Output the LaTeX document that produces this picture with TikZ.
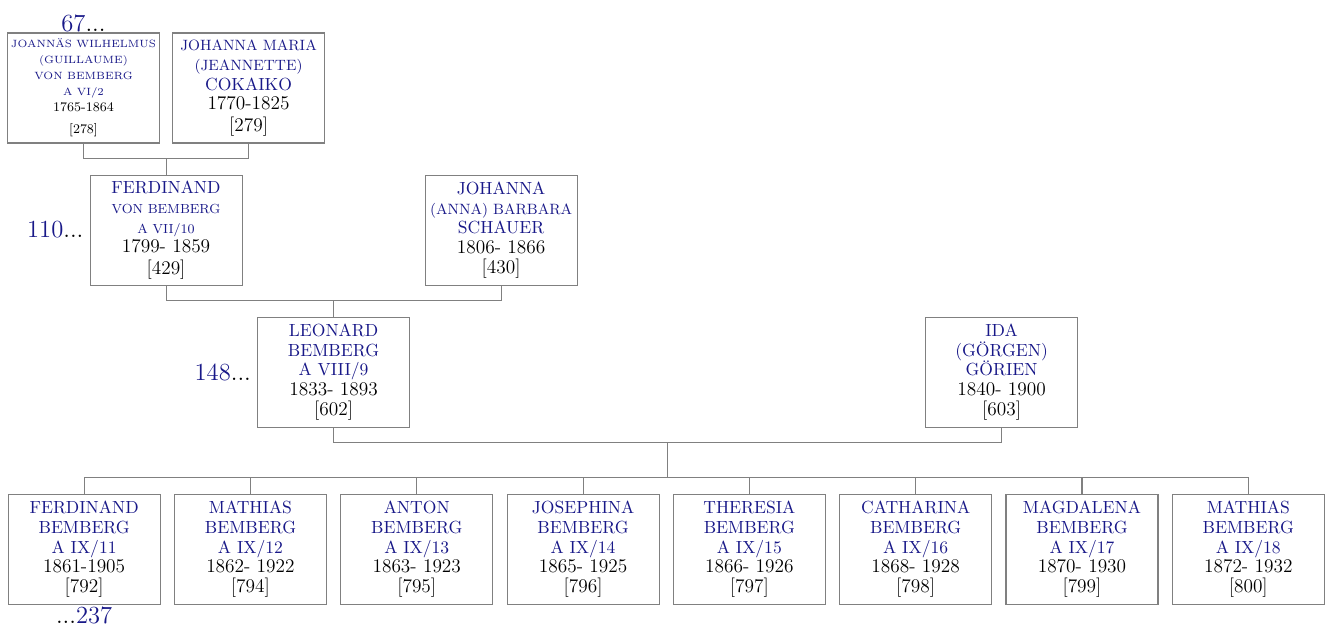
\documentclass[tikz,border=0pt]{standalone}
\usepackage{xcolor}
\usepackage{tikz}
\usetikzlibrary{positioning,calc}

\definecolor{namecol}{RGB}{24,24,136}
\definecolor{linecol}{RGB}{128,128,128}
\newcommand{\nm}[1]{\textcolor{namecol}{#1}}
\newcommand{\bigname}{\fontsize{10}{11.3}\selectfont}
\newcommand{\midname}{\fontsize{8.5}{11.3}\selectfont}
\newcommand{\smallname}{\fontsize{7.5}{9}\selectfont}
\newcommand{\tinyname}{\fontsize{6}{9}\selectfont}

\begin{document}
\begin{tikzpicture}[
    node distance=0.62cm and 0.265cm,
    person/.style={draw=linecol, line width=0.6pt, minimum width=3.04cm, minimum height=2.2cm, inner sep=1pt, align=center, font=\fontsize{11}{11.3}\selectfont},
    gen/.style={font=\fontsize{14}{14}\selectfont, inner sep=1pt},
    link/.style={draw=linecol, line width=0.6pt}
]
    \useasboundingbox (0,0) rectangle (26.58,-12.56);

    % generation VI
    \node[person, font=\tinyname] (joannes) at (1.67,-1.76) {\nm{JOANNÄS WILHELMUS}\\\nm{(GUILLAUME)}\\\nm{VON BEMBERG}\\\nm{A VI/2}\\{\smallname 1765-1864}\\[4pt]{\smallname [278]}};
    \node[person, right=0.24cm of joannes] (jeannette) {\nm{\midname JOHANNA MARIA}\\\nm{\midname (JEANNETTE)}\\\nm{\bigname COKAIKO}\\1770-1825\\[1pt]{[279]}};

    % generation VII
    \node[person, below=of $(joannes.south)!0.5!(jeannette.south)$] (ferdinand) {\nm{\bigname FERDINAND}\\\nm{\smallname VON BEMBERG}\\\nm{\smallname A VII/10}\\1799-~1859\\[1pt]{[429]}};
    \node[person, right=3.64cm of ferdinand] (johanna) {\nm{\bigname JOHANNA}\\\nm{\midname (ANNA) BARBARA}\\\nm{\bigname SCHAUER}\\1806-~1866\\{[430]}};

    % generation VIII
    \node[person, below=of $(ferdinand.south)!0.5!(johanna.south)$] (leonard) {\nm{\bigname LEONARD}\\\nm{\bigname BEMBERG}\\\nm{\bigname A VIII/9}\\1833-~1893\\{[602]}};
    \node[person, right=10.3cm of leonard] (ida) {\nm{\bigname IDA}\\\nm{\bigname (GÖRGEN)}\\\nm{\bigname GÖRIEN}\\1840-~1900\\{[603]}};

    % generation IX
    \node[person, below left=1.32cm and 0.16cm of $(leonard.south)!0.5!(ida.south)$] (c4) {\nm{\bigname JOSEPHINA}\\\nm{\bigname BEMBERG}\\\nm{\bigname A IX/14}\\1865-~1925\\{[796]}};
    \node[person, left=of c4] (c3) {\nm{\bigname ANTON}\\\nm{\bigname BEMBERG}\\\nm{\bigname A IX/13}\\1863-~1923\\{[795]}};
    \node[person, left=of c3] (c2) {\nm{\bigname MATHIAS}\\\nm{\bigname BEMBERG}\\\nm{\bigname A IX/12}\\1862-~1922\\{[794]}};
    \node[person, left=of c2] (c1) {\nm{\bigname FERDINAND}\\\nm{\bigname BEMBERG}\\\nm{\bigname A IX/11}\\1861-1905\\{[792]}};
    \node[person, right=of c4] (c5) {\nm{\bigname THERESIA}\\\nm{\bigname BEMBERG}\\\nm{\bigname A IX/15}\\1866-~1926\\{[797]}};
    \node[person, right=of c5] (c6) {\nm{\bigname CATHARINA}\\\nm{\bigname BEMBERG}\\\nm{\bigname A IX/16}\\1868-~1928\\{[798]}};
    \node[person, right=of c6] (c7) {\nm{\bigname MAGDALENA}\\\nm{\bigname BEMBERG}\\\nm{\bigname A IX/17}\\1870-~1930\\{[799]}};
    \node[person, right=of c7] (c8) {\nm{\bigname MATHIAS}\\\nm{\bigname BEMBERG}\\\nm{\bigname A IX/18}\\1872-~1932\\{[800]}};

    % references
    \node[gen, above=-1pt of joannes] (g67) {\nm{67}...};
    \node[gen, left=0.08cm of ferdinand] (g110) {\nm{110}...};
    \node[gen, left=0.08cm of leonard] (g148) {\nm{148}...};
    \node[gen, below=0pt of c1] (g237) {...\nm{237}};

    % couples and descent
    \draw[link] (joannes.south) -- ++(0,-0.3) -| (jeannette.south);
    \draw[link] ($(joannes.south)!0.5!(jeannette.south)+(0,-0.3)$) -- (ferdinand.north);
    \draw[link] (ferdinand.south) -- ++(0,-0.3) -| (johanna.south);
    \draw[link] ($(ferdinand.south)!0.5!(johanna.south)+(0,-0.3)$) -- (leonard.north);
    \draw[link] (leonard.south) -- ++(0,-0.3) -| (ida.south);
    \draw[link] ($(leonard.south)!0.5!(ida.south)+(0,-0.3)$) -- ++(0,-0.7);
    \draw[link] (c1.north) -- ++(0,0.32) -| (c8.north);
    \foreach \c in {c2,c3,c4,c5,c6,c7}
        \draw[link] (\c.north) -- ++(0,0.32);
\end{tikzpicture}
\end{document}
